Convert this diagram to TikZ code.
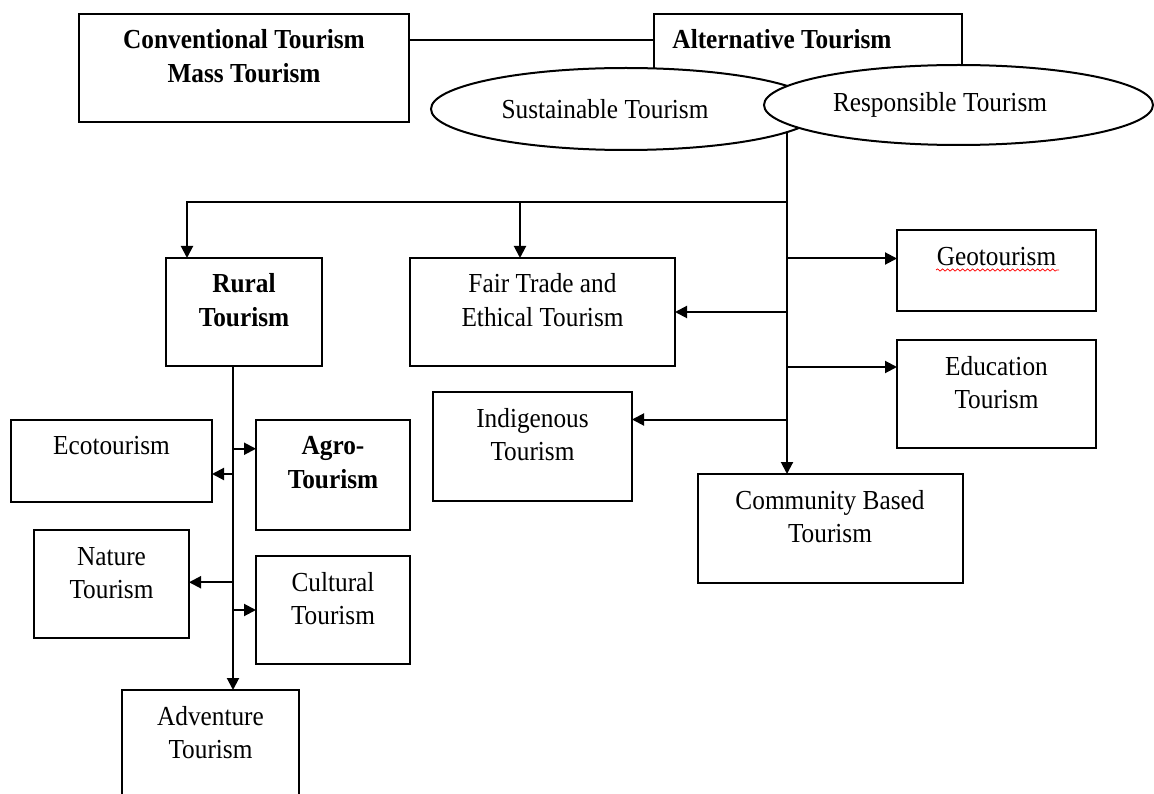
\documentclass[tikz,border=0pt]{standalone}
\usepackage{fontspec}
\setmainfont{Liberation Serif}[FakeStretch=0.92]
\usetikzlibrary{shapes.geometric,arrows.meta,backgrounds,decorations.pathmorphing}
\newcommand\boxtxt[3]{\begin{minipage}[t][#2][t]{#1}\centering\rule{0pt}{35pt}#3\end{minipage}}
\begin{document}
\begin{tikzpicture}[x=1pt,y=-1pt,
  box/.style={draw, line width=2pt, inner sep=0pt, outer sep=0pt, fill=white,
    font=\fontsize{27.5}{33.5}\selectfont},
  ell/.style={ellipse, draw, line width=2pt, fill=white, inner sep=0pt,
    font=\fontsize{27.5}{33.5}\selectfont},
  ln/.style={line width=2pt},
  arr/.style={line width=2pt, -{Triangle[length=12pt,width=12pt]}}]
\useasboundingbox (0,0) rectangle (1154,794);
% top
\node[box] (conv) at (244,68) {\boxtxt{330pt}{108pt}{\textbf{Conventional Tourism}\\\textbf{Mass Tourism}}};
\node[box] (alt) at (808,57) {\boxtxt{308pt}{86pt}{\hspace*{-52pt}\textbf{Alternative Tourism}}};
\node[ell, minimum width=390pt, minimum height=82pt] (sus) at (626,109) {\hspace*{-42pt}Sustainable Tourism};
\node[ell, minimum width=389pt, minimum height=80pt] (resp) at (958.5,105) {\hspace*{-37pt}Responsible Tourism};
% middle
\node[box] (rural) at (244,312) {\boxtxt{156pt}{108pt}{\textbf{Rural}\\\textbf{Tourism}}};
\node[box] (fair) at (542.5,312) {\boxtxt{265pt}{108pt}{Fair Trade and\\Ethical Tourism}};
\node[box] (geo) at (996.5,271) {\boxtxt{199pt}{81pt}{Geotourism}};
\node[box] (edu) at (996.5,394) {\boxtxt{199pt}{108pt}{Education\\Tourism}};
\node[box] (indig) at (532.5,446.5) {\boxtxt{199pt}{108.5pt}{Indigenous\\Tourism}};
\node[box] (comm) at (830,528.5) {\boxtxt{265pt}{109pt}{Community Based\\Tourism}};
% rural branch
\node[box] (eco) at (111.5,460.5) {\boxtxt{201pt}{82pt}{Ecotourism}};
\node[box] (agro) at (333,474.75) {\boxtxt{154pt}{110.5pt}{\textbf{Agro-}\\\textbf{Tourism}}};
\node[box] (nat) at (111.5,583.75) {\boxtxt{155pt}{107.5pt}{Nature\\Tourism}};
\node[box] (cult) at (333,610) {\boxtxt{154pt}{108pt}{Cultural\\Tourism}};
\node[box] (adv) at (210.5,750) {\boxtxt{177pt}{120pt}{Adventure\\Tourism}};
% spell-check underline
\draw[red, line width=0.7pt, decorate, decoration={snake, amplitude=1.1pt, segment length=5pt}] (936,270) -- (1059,270);
% connectors
\coordinate (c1) at ([yshift=28pt]conv.east);
\coordinate (j) at (787,202);
\coordinate (ga) at ([yshift=12.5pt]geo.west);
\coordinate (ea) at ([yshift=27pt]edu.west);
\coordinate (ia) at ([yshift=27pt]indig.east);
\coordinate (rd) at ([xshift=-57pt]rural.north);
\coordinate (fd) at ([xshift=-22.5pt]fair.north);
\coordinate (r0) at ([xshift=-11pt]rural.south);
\coordinate (aga) at ([yshift=26pt]agro.west);
\coordinate (eca) at ([yshift=-13.5pt]eco.east);
\coordinate (na) at ([yshift=1.5pt]nat.east);
\begin{scope}[on background layer]
\draw[ln] (c1) -- (c1 -| alt.west);
\draw[ln] (resp.center -| j) -- (j);
\draw[arr] (j) -- (j |- comm.north);
\draw[arr] (j) -| (rd);
\draw[arr] (fd |- j) -- (fd);
\draw[arr] (j |- ga) -- (ga);
\draw[arr] (j |- fair.east) -- (fair.east);
\draw[arr] (j |- ea) -- (ea);
\draw[arr] (j |- ia) -- (ia);
\draw[arr] (r0) -- (r0 |- adv.north);
\draw[arr] (r0 |- aga) -- (aga);
\draw[arr] (r0 |- eca) -- (eca);
\draw[arr] (r0 |- na) -- (na);
\draw[arr] (r0 |- cult.west) -- (cult.west);
\end{scope}
\end{tikzpicture}
\end{document}
